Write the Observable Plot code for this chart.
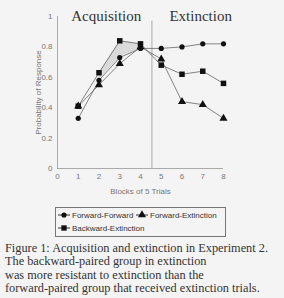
<!DOCTYPE html>
<html>
<head>
<meta charset="utf-8">
<script src="https://cdn.jsdelivr.net/npm/d3@7"></script>
<script src="https://cdn.jsdelivr.net/npm/@observablehq/plot@0.6"></script>
<style>
  html, body { margin: 0; padding: 0; background: #f4f4f4; }
  #wrap { position: relative; width: 284px; height: 298px; overflow: hidden; }
  #legend { position: absolute; left: 55px; top: 207px; width: 169px; height: 28px;
    border: 1px solid #777; font-family: "Liberation Sans", Arial, sans-serif; font-size: 8px; color: #333; }
  .entry { position: absolute; display: flex; align-items: center; white-space: nowrap; }
  .entry svg { margin-right: 2px; }
  #caption { position: absolute; left: 5px; top: 242px; font-family: "Liberation Serif", "Times New Roman", serif;
    font-size: 12.3px; line-height: 13.3px; color: #333; white-space: nowrap; }
</style>
</head>
<body>
<div id="wrap">
  <div id="chart"></div>
  <div id="legend"></div>
  <div id="caption"></div>
</div>
<script>
const blocks = [1, 2, 3, 4, 5, 6, 7, 8];
const forwardForward = [0.33, 0.58, 0.73, 0.79, 0.79, 0.80, 0.82, 0.82];
const forwardExtinction = [0.41, 0.55, 0.69, 0.80, 0.72, 0.44, 0.42, 0.33];
const backwardExtinction = [0.41, 0.63, 0.84, 0.82, 0.68, 0.62, 0.64, 0.56];
const seriesNames = ["Forward-Forward", "Forward-Extinction", "Backward-Extinction"];
const seriesSymbols = ["circle", "triangle", "square"];
const xTicks = [0, 1, 2, 3, 4, 5, 6, 7, 8];
const yTicks = [0, 0.2, 0.4, 0.6, 0.8, 1];
const phaseLabels = ["Acquisition", "Extinction"];
const phaseCenters = [2.35, 6.9];
const phaseBoundary = 4.55;
const captionLines = [
  "Figure 1:  Acquisition and extinction in Experiment 2.",
  "The backward-paired group in extinction",
  "was more resistant to extinction than the",
  "forward-paired group that received extinction trials."
];

const allValues = [forwardForward, forwardExtinction, backwardExtinction];
const data = [];
seriesNames.forEach((s, i) => blocks.forEach((b, j) => data.push({series: s, block: b, value: allValues[i][j], symbol: seriesSymbols[i]})));
const shade = blocks.map((b, j) => ({block: b, lo: forwardForward[j], hi: backwardExtinction[j]})).filter(d => d.block >= 2 && d.block <= 4);
const phases = phaseLabels.map((t, i) => ({label: t, x: phaseCenters[i]}));

const chart = Plot.plot({
  width: 284,
  height: 200,
  marginLeft: 57,
  marginRight: 61,
  marginTop: 16,
  marginBottom: 32,
  style: {background: "transparent", fontFamily: "Liberation Sans, Arial, sans-serif", fontSize: "8px", color: "#777"},
  x: {domain: [0, 8], ticks: xTicks, tickSize: 0, tickPadding: 5, label: "Blocks of 5 Trials", labelAnchor: "center", labelArrow: "none", labelOffset: 25},
  y: {domain: [0, 1], ticks: yTicks, tickSize: 0, tickPadding: 5, tickFormat: d => d === 0 ? "0" : d === 1 ? "1" : d3.format(".1f")(d),
      label: "Probability of Response", labelAnchor: "center", labelArrow: "none", labelOffset: 22},
  symbol: {domain: seriesSymbols, range: seriesSymbols},
  marks: [
    Plot.areaY(shade, {x: "block", y1: "lo", y2: "hi", fill: "#dadada"}),
    Plot.ruleX([0], {stroke: "#aaa", strokeWidth: 1}),
    Plot.ruleY([0], {stroke: "#aaa", strokeWidth: 1}),
    Plot.ruleX([phaseBoundary], {y1: 0, y2: 0.97, stroke: "#aaa", strokeWidth: 1}),
    Plot.line(data, {x: "block", y: "value", z: "series", stroke: "#666", strokeWidth: 0.8}),
    Plot.dot(data.filter(d => d.symbol === "circle"), {x: "block", y: "value", symbol: "symbol", r: 2.6, fill: "#111"}),
    Plot.dot(data.filter(d => d.symbol === "triangle"), {x: "block", y: "value", symbol: "symbol", r: 3, fill: "#111"}),
    Plot.dot(data.filter(d => d.symbol === "square"), {x: "block", y: "value", symbol: "symbol", r: 3.1, fill: "#111"}),
    Plot.text(phases, {x: "x", y: 1, text: "label", dy: 0, fontFamily: "Liberation Serif, Times New Roman, serif", fontSize: 15, fill: "#333"})
  ]
});
document.getElementById("chart").appendChild(chart);

// legend
const legend = document.getElementById("legend");
const legendPos = [[2, 2], [80, 2], [2, 15]];
const legendOrder = [0, 1, 2];
legendOrder.forEach((i, k) => {
  const e = document.createElement("div");
  e.className = "entry";
  e.style.left = legendPos[k][0] + "px";
  e.style.top = legendPos[k][1] + "px";
  const sym = d3.symbol(seriesSymbols[i] === "circle" ? d3.symbolCircle : seriesSymbols[i] === "triangle" ? d3.symbolTriangle : d3.symbolSquare,
    Math.PI * (seriesSymbols[i] === "circle" ? 2.6 : 3) ** 2)();
  e.innerHTML = `<svg width="12" height="10"><line x1="0" x2="12" y1="5" y2="5" stroke="#333" stroke-width="1"/><path d="${sym}" transform="translate(6,5)" fill="#111"/></svg><span>${seriesNames[i]}</span>`;
  legend.appendChild(e);
});

document.getElementById("caption").innerHTML = captionLines.join("<br>");
</script>
</body>
</html>
